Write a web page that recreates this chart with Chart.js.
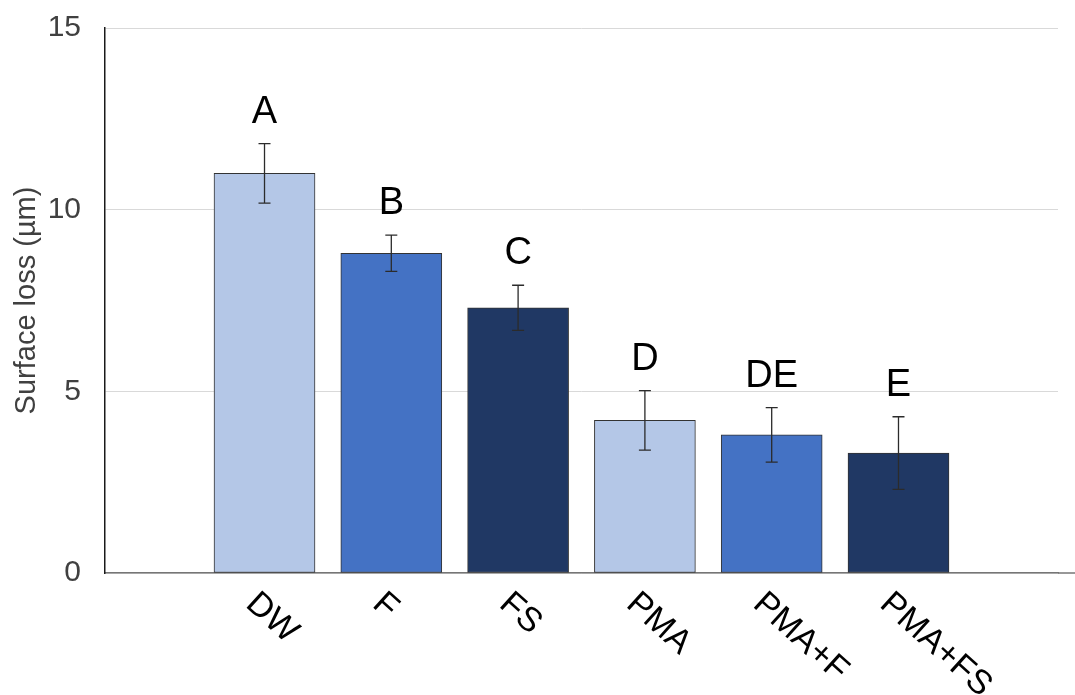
<!DOCTYPE html>
<html>
<head>
<meta charset="utf-8">
<title>Surface loss</title>
<script src="https://cdn.jsdelivr.net/npm/chart.js@4/dist/chart.umd.min.js"></script>
<style>
    html, body { margin: 0; padding: 0; background: #fff; }
    #wrap { width: 1075px; height: 695px; position: relative; }
</style>
</head>
<body>
<div id="wrap"><canvas id="lossChart"></canvas></div>
<script>
// values
const groups = ["DW", "F", "FS", "PMA", "PMA+F", "PMA+FS"];
const surfaceLoss = [11.0, 8.8, 7.3, 4.2, 3.8, 3.3];
const errors = [0.82, 0.5, 0.62, 0.82, 0.75, 1.0];
const letters = ["A", "B", "C", "D", "DE", "E"];
const yTicks = [0, 5, 10, 15];

const barColors = ["#b4c7e7", "#4472c4", "#203864", "#b4c7e7", "#4472c4", "#203864"];
const fontName = "'Liberation Sans', Arial, sans-serif";

// error bars, significance letters and rotated group names
const extrasPlugin = {
    id: "extras",
    afterDatasetsDraw(chart) {
        const ctx = chart.ctx;
        const xs = chart.scales.x;
        const ys = chart.scales.y;
        const area = chart.chartArea;

        ctx.save();
        ctx.strokeStyle = "#2b2b2b";
        ctx.lineWidth = 1.3;
        surfaceLoss.forEach((v, i) => {
            const px = xs.getPixelForValue(i);
            const top = ys.getPixelForValue(v + errors[i]);
            const bot = ys.getPixelForValue(v - errors[i]);
            ctx.beginPath();
            ctx.moveTo(px, top);
            ctx.lineTo(px, bot);
            ctx.moveTo(px - 6, top);
            ctx.lineTo(px + 6, top);
            ctx.moveTo(px - 6, bot);
            ctx.lineTo(px + 6, bot);
            ctx.stroke();
        });

        ctx.fillStyle = "#000";
        ctx.font = "38px " + fontName;
        ctx.textAlign = "center";
        ctx.textBaseline = "alphabetic";
        letters.forEach((t, i) => {
            const px = xs.getPixelForValue(i);
            const top = ys.getPixelForValue(surfaceLoss[i] + errors[i]);
            ctx.fillText(t, px, top - 21);
        });

        // x axis line runs on to the right edge
        ctx.strokeStyle = "#767676";
        ctx.lineWidth = 1.5;
        ctx.beginPath();
        ctx.moveTo(area.right, area.bottom);
        ctx.lineTo(chart.width, area.bottom);
        ctx.stroke();

        const ang = 42 * Math.PI / 180;
        ctx.fillStyle = "#000";
        ctx.font = "34px " + fontName;
        ctx.textAlign = "left";
        groups.forEach((g, i) => {
            const px = xs.getPixelForValue(i);
            ctx.save();
            ctx.translate(px - 20, area.bottom + 33);
            ctx.rotate(ang);
            ctx.fillText(g, 0, 0);
            ctx.restore();
        });
        ctx.restore();
    }
};

const ctx = document.getElementById("lossChart").getContext("2d");
new Chart(ctx, {
    type: "bar",
    data: {
        datasets: [{
            data: surfaceLoss.map((v, i) => ({ x: i, y: v })),
            backgroundColor: barColors,
            borderColor: "#333333",
            borderWidth: 1,
            borderSkipped: false,
            barThickness: 101
        }]
    },
    options: {
        responsive: true,
        maintainAspectRatio: false,
        animation: false,
        layout: { padding: { top: 28, right: 17, left: 0, bottom: 0 } },
        plugins: {
            legend: { display: false },
            tooltip: { enabled: false }
        },
        scales: {
            x: {
                type: "linear",
                offset: false,
                min: -1.258,
                max: 6.258,
                grid: { display: false, offset: false },
                border: { display: true, color: "#767676", width: 1.5 },
                ticks: { display: false },
                afterFit: (scale) => { scale.height = 122; }
            },
            y: {
                min: 0,
                max: 15,
                afterBuildTicks: (scale) => {
                    scale.ticks = yTicks.map(v => ({ value: v }));
                },
                grid: {
                    color: "#d9d9d9",
                    lineWidth: 1,
                    drawTicks: true,
                    tickLength: 24,
                    tickColor: "rgba(0,0,0,0)"
                },
                border: { display: true, color: "#1a1a1a", width: 1.5 },
                ticks: {
                    color: "#404040",
                    padding: 0,
                    font: { family: fontName, size: 30 }
                },
                title: {
                    display: true,
                    text: "Surface loss (µm)",
                    color: "#404040",
                    font: { family: fontName, size: 29 },
                    padding: { top: 10, bottom: 0 }
                },
                afterFit: (scale) => { scale.width = 105; }
            }
        }
    },
    plugins: [extrasPlugin]
});
</script>
</body>
</html>
